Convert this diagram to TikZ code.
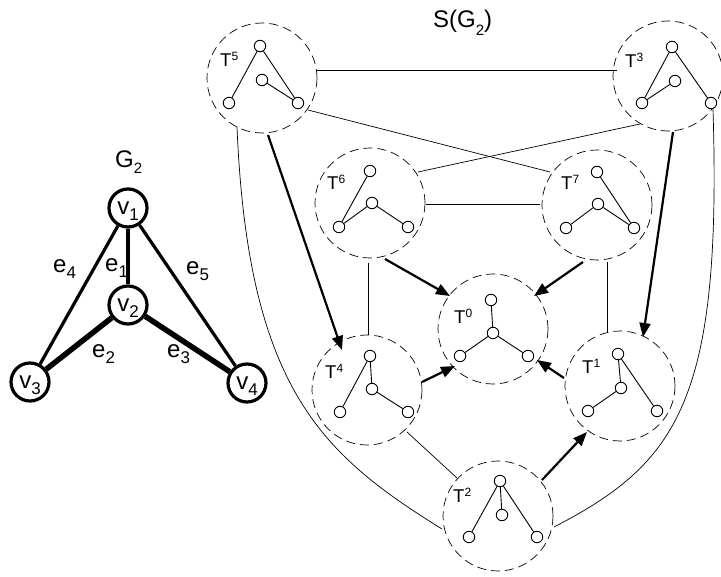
\documentclass[tikz,border=0pt]{standalone}
\usepackage{fontspec}
\setmainfont{Liberation Sans}
\usetikzlibrary{arrows.meta,calc}
\newcommand\labsub[2][17]{\raisebox{-6pt}{\fontsize{#1}{#1}\selectfont #2}}
\newcommand\labsup[1]{\raisebox{6pt}{\fontsize{12}{12}\selectfont #1}}
\begin{document}
\begin{tikzpicture}[x=1pt,y=-1pt,
  tcirc/.style={circle,draw,line width=0.7pt,dash pattern=on 9pt off 5pt,minimum size=110pt,inner sep=0pt},
  sv/.style={circle,draw,line width=0.9pt,fill=white,minimum size=11.5pt,inner sep=0pt},
  te/.style={line width=0.9pt},
  thinc/.style={line width=0.7pt},
  arr/.style={line width=2.2pt,-{Triangle[length=14pt,width=11pt]}},
  tlab/.style={font=\fontsize{18.5}{20}\selectfont,inner sep=0pt,anchor=base west},
  gv/.style={circle,draw,line width=3.2pt,fill=white,minimum size=38pt,inner sep=0pt,text depth=0pt,font=\fontsize{24}{26}\selectfont},
  ge/.style={line width=3.2pt},
  gE/.style={line width=5.5pt},
  glab/.style={font=\fontsize{24}{26}\selectfont,inner sep=0pt,anchor=base west}
]
\useasboundingbox (0,0) rectangle (721,577);

% ---------- left graph G2 ----------
\node[glab] (g2lab) at (115,168) {G\labsub[15]{2}};
\node[gv] (v1) at (128,208) {v\labsub{1}};
\node[gv] (v2) at (128,305) {v\labsub{2}};
\node[gv] (v3) at (30,382) {v\labsub{3}};
\node[gv] (v4) at (247,383) {v\labsub{4}};
\draw[ge] (v1) -- (v2);
\draw[ge] (v1) -- (v3);
\draw[ge] (v1) -- (v4);
\draw[gE] (v2) -- (v3);
\draw[gE] (v2) -- (v4);
\node[glab] (le4) at (53,273) {e\labsub{4}};
\node[glab] (le1) at (105,272) {e\labsub{1}};
\node[glab] (le5) at (186,275) {e\labsub{5}};
\node[glab] (le2) at (92,358) {e\labsub{2}};
\node[glab] (le3) at (167,358) {e\labsub{3}};

% ---------- title ----------
\node[glab] (title) at (433,28) {S(G\raisebox{-8pt}{\fontsize{15}{15}\selectfont 2})};

% ---------- dashed circles ----------
\node[tcirc] (T5) at (262,78) {};
\node[tcirc] (T3) at (668,76) {};
\node[tcirc] (T6) at (370,203) {};
\node[tcirc] (T7) at (597,205) {};
\node[tcirc] (T0) at (493,329) {};
\node[tcirc] (T4) at (367,390) {};
\node[tcirc] (T1) at (620,386) {};
\node[tcirc] (T2) at (498,516) {};

% ---------- labels ----------
\node[tlab] (l5) at (220,67) {T\labsup{5}};
\node[tlab] (l3) at (625,68) {T\labsup{3}};
\node[tlab] (l6) at (327,190) {T\labsup{6}};
\node[tlab] (l7) at (561,190) {T\labsup{7}};
\node[tlab] (l0) at (454,324) {T\labsup{0}};
\node[tlab] (l4) at (325,379) {T\labsup{4}};
\node[tlab] (l1) at (582,374) {T\labsup{1}};
\node[tlab] (l2) at (453,503) {T\labsup{2}};

% ---------- trees ----------
% T5
\node[sv] (a5) at (260,46) {}; \node[sv] (b5) at (262,80) {};
\node[sv] (c5) at (229,103) {}; \node[sv] (d5) at (298,103) {};
\draw[te] (a5) -- (c5); \draw[te] (a5) -- (d5); \draw[te] (b5) -- (d5);
% T3
\node[sv] (a3) at (672,47) {}; \node[sv] (b3) at (675,81) {};
\node[sv] (c3) at (642,103) {}; \node[sv] (d3) at (711,103) {};
\draw[te] (a3) -- (c3); \draw[te] (a3) -- (d3); \draw[te] (b3) -- (c3);
% T6
\node[sv] (a6) at (370,171) {}; \node[sv] (b6) at (372,203) {};
\node[sv] (c6) at (339,227) {}; \node[sv] (d6) at (408,227) {};
\draw[te] (a6) -- (c6); \draw[te] (b6) -- (c6); \draw[te] (b6) -- (d6);
% T7
\node[sv] (a7) at (597,172) {}; \node[sv] (b7) at (598,204) {};
\node[sv] (c7) at (566,228) {}; \node[sv] (d7) at (634,228) {};
\draw[te] (a7) -- (d7); \draw[te] (b7) -- (c7); \draw[te] (b7) -- (d7);
% T0
\node[sv] (a0) at (491,300) {}; \node[sv] (b0) at (493,333) {};
\node[sv] (c0) at (460,356) {}; \node[sv] (d0) at (528,356) {};
\draw[te] (b0) -- (a0); \draw[te] (b0) -- (c0); \draw[te] (b0) -- (d0);
% T4
\node[sv] (a4) at (370,356) {}; \node[sv] (b4) at (372,389) {};
\node[sv] (c4) at (340,412) {}; \node[sv] (d4) at (408,412) {};
\draw[te] (a4) -- (c4); \draw[te] (a4) -- (b4); \draw[te] (b4) -- (d4);
% T1
\node[sv] (a1) at (618,354) {}; \node[sv] (b1) at (621,388) {};
\node[sv] (c1) at (588,411) {}; \node[sv] (d1) at (657,411) {};
\draw[te] (a1) -- (b1); \draw[te] (a1) -- (d1); \draw[te] (b1) -- (c1);
% T2
\node[sv] (a2) at (500,481) {}; \node[sv] (b2) at (502,515) {};
\node[sv] (c2) at (469,537) {}; \node[sv] (d2) at (537,537) {};
\draw[te] (a2) -- (c2); \draw[te] (a2) -- (d2); \draw[te] (a2) -- (b2);

% ---------- thin connectors ----------
\draw[thinc] ($(T5)+(54,-8)$) -- ($(T3)+(-51,-6)$);
\draw[thinc] ($(T5)+(46,32)$) -- ($(T7)+(-47,-33)$);
\draw[thinc] ($(T3)+(-28,48)$) -- ($(T6)+(48,-31)$);
\draw[thinc] ($(T6)+(56,1)$) -- ($(T7)+(-57,-1)$);
\draw[thinc] ($(T6)+(-2,60)$) -- ($(T4)+(1,-55)$);
\draw[thinc] ($(T7)+(10,57)$) -- ($(T1)+(-13,-53)$);
\draw[thinc] ($(T4)+(40,42)$) -- ($(T2)+(-41,-38)$);
\draw[thinc] ($(T5)+(-25,49)$) .. controls (248,390) and (323,455) .. ($(T2)+(-56,13)$);
\draw[thinc] ($(T3)+(45,33)$) .. controls (722,400) and (678,463) .. ($(T2)+(56,11)$);

% ---------- thick arrows ----------
\draw[arr] ($(T5)+(6,57)$) -- ($(T4)+(-25,-40)$);
\draw[arr] ($(T3)+(5,56)$) -- ($(T1)+(23,-49)$);
\draw[arr] ($(T6)+(15,56)$) -- ($(T0)+(-43,-33)$);
\draw[arr] ($(T7)+(-14,57)$) -- ($(T0)+(41,-33)$);
\draw[arr] ($(T4)+(55,-8)$) -- ($(T0)+(-38,37)$);
\draw[arr] ($(T1)+(-56,-8)$) -- ($(T0)+(44,31)$);
\draw[arr] ($(T2)+(44,-36)$) -- ($(T1)+(-33,46)$);
\end{tikzpicture}
\end{document}
